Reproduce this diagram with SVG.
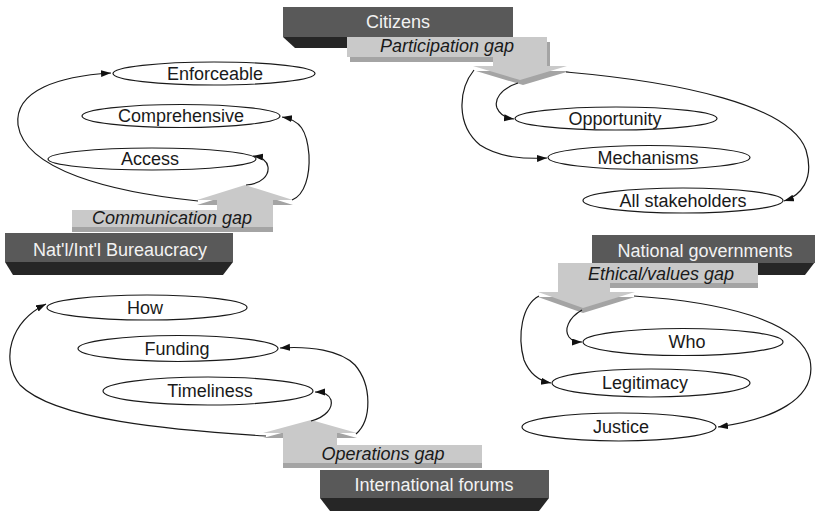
<svg xmlns="http://www.w3.org/2000/svg" width="816" height="511" viewBox="0 0 816 511">
  <defs>
    <marker id="arrow" markerUnits="userSpaceOnUse" markerWidth="11" markerHeight="8" refX="10" refY="3.5" orient="auto">
      <path d="M0,0 L10,3.5 L0,7 z" fill="#111"/>
    </marker>
  </defs>
  <style>
    .actor { fill: #595959; }
    .actor-edge { fill: #262626; }
    .gap { fill: #c9c9c9; }
    .gap-edge { fill: #a4a4a4; }
    .actor-text { font-family: "Liberation Sans", Arial, sans-serif; font-size: 18px; fill: #f2f2f2; text-anchor: middle; }
    .gap-text { font-family: "Liberation Sans", Arial, sans-serif; font-size: 18px; font-style: italic; fill: #1a1a1a; text-anchor: middle; }
    .item { fill: #ffffff; stroke: #1a1a1a; stroke-width: 1.2; }
    .item-text { font-family: "Liberation Sans", Arial, sans-serif; font-size: 18px; fill: #1a1a1a; text-anchor: middle; }
    .link { fill: none; stroke: #1a1a1a; stroke-width: 1.2; marker-end: url(#arrow); }
  </style>
  <rect width="816" height="511" fill="#ffffff"/>

  <!-- Citizens / participation gap -->
  <g id="citizens">
    <polygon class="actor-edge" points="283,37 513,37 501,48 295,48"/>
    <rect class="actor" x="283" y="7" width="230" height="30"/>
    <text class="actor-text" x="398" y="28">Citizens</text>
  </g>
  <g id="participation-gap">
    <polygon class="gap-edge" transform="translate(3,5)" points="347,37 547,37 547,66 567,66 520,80 473,66 493,66 493,57 347,57"/>
    <polygon class="gap" points="347,37 547,37 547,66 567,66 520,80 473,66 493,66 493,57 347,57"/>
    <text class="gap-text" x="447" y="52">Participation gap</text>
  </g>

  <!-- Bureaucracy / communication gap -->
  <g id="bureaucracy">
    <polygon class="actor-edge" points="5,262 233,262 223,275 13,275"/>
    <rect class="actor" x="5" y="233" width="228" height="29"/>
    <text class="actor-text" x="120" y="256">Nat'l/Int'l Bureaucracy</text>
  </g>
  <g id="communication-gap">
    <polygon class="gap-edge" transform="translate(0,5)" points="72,210 217,210 217,200 197,200 245,185 293,200 273,200 273,227 72,227"/>
    <polygon class="gap" points="72,210 217,210 217,200 197,200 245,185 293,200 273,200 273,227 72,227"/>
    <text class="gap-text" x="172" y="224">Communication gap</text>
  </g>

  <!-- National governments / ethical gap -->
  <g id="national-governments">
    <polygon class="actor-edge" points="592,262 815,262 805,275 602,275"/>
    <rect class="actor" x="592" y="235" width="223" height="28"/>
    <text class="actor-text" x="705" y="257">National governments</text>
  </g>
  <g id="ethical-gap">
    <polygon class="gap-edge" transform="translate(0,5)" points="558,263 758,263 758,283 610,283 610,292 635,292 583,308 538,292 558,292"/>
    <polygon class="gap" points="558,263 758,263 758,283 610,283 610,292 635,292 583,308 538,292 558,292"/>
    <text class="gap-text" x="661" y="280">Ethical/values gap</text>
  </g>

  <!-- International forums / operations gap -->
  <g id="international-forums">
    <polygon class="actor-edge" points="320,498 549,498 539,511 330,511"/>
    <rect class="actor" x="320" y="470" width="229" height="28"/>
    <text class="actor-text" x="434" y="491">International forums</text>
  </g>
  <g id="operations-gap">
    <polygon class="gap-edge" transform="translate(0,5)" points="283,463 283,433 263,433 311,420 357,433 337,433 337,445 482,445 482,463"/>
    <polygon class="gap" points="283,463 283,433 263,433 311,420 357,433 337,433 337,445 482,445 482,463"/>
    <text class="gap-text" x="383" y="460">Operations gap</text>
  </g>

  <!-- Items -->
  <g id="enforceable"><ellipse class="item" cx="214" cy="73.5" rx="101" ry="11.5"/><text class="item-text" x="215" y="80">Enforceable</text></g>
  <g id="comprehensive"><ellipse class="item" cx="181" cy="116" rx="99" ry="11.5"/><text class="item-text" x="181" y="122">Comprehensive</text></g>
  <g id="access"><ellipse class="item" cx="152" cy="159" rx="104" ry="11"/><text class="item-text" x="150" y="165">Access</text></g>

  <g id="opportunity"><ellipse class="item" cx="616" cy="118.5" rx="101" ry="11.5"/><text class="item-text" x="615" y="125">Opportunity</text></g>
  <g id="mechanisms"><ellipse class="item" cx="649" cy="157.5" rx="101" ry="12"/><text class="item-text" x="648" y="164">Mechanisms</text></g>
  <g id="all-stakeholders"><ellipse class="item" cx="683" cy="200.5" rx="100" ry="12.5"/><text class="item-text" x="683" y="207">All stakeholders</text></g>

  <g id="who"><ellipse class="item" cx="683" cy="342" rx="100" ry="13.5"/><text class="item-text" x="687" y="348">Who</text></g>
  <g id="legitimacy"><ellipse class="item" cx="651" cy="383" rx="99" ry="14"/><text class="item-text" x="645" y="389">Legitimacy</text></g>
  <g id="justice"><ellipse class="item" cx="619" cy="427" rx="97" ry="14"/><text class="item-text" x="621" y="433">Justice</text></g>

  <g id="how"><ellipse class="item" cx="147" cy="307.5" rx="100" ry="12.5"/><text class="item-text" x="145" y="314">How</text></g>
  <g id="funding"><ellipse class="item" cx="178" cy="348.5" rx="100" ry="13"/><text class="item-text" x="177" y="355">Funding</text></g>
  <g id="timeliness"><ellipse class="item" cx="208" cy="391" rx="105" ry="14"/><text class="item-text" x="210" y="397">Timeliness</text></g>

  <!-- Connectors -->
  <g id="connectors">
    <path class="link" d="M198,201 C110,192 25,170 18,125 C14,90 60,76 111,73"/>
    <path class="link" d="M292,200 C305,195 310,175 309,155 C307,130 300,120 282,117"/>
    <path class="link" d="M246,185 C262,184 269,175 268,167 C267,161 262,157 253,156"/>

    <path class="link" d="M474,70 C458,90 456,125 480,145 C500,158 525,159 547,158"/>
    <path class="link" d="M518,83 C500,89 494,100 497,108 C500,115 506,118 514,119"/>
    <path class="link" d="M566,72 C680,82 790,105 806,150 C815,180 800,196 784,201"/>

    <path class="link" d="M539,296 C522,305 517,335 524,360 C530,375 540,381 551,383"/>
    <path class="link" d="M582,310 C568,318 564,330 569,337 C572,341 577,342 582,342"/>
    <path class="link" d="M634,296 C720,302 800,320 810,360 C818,400 770,420 718,427"/>

    <path class="link" d="M266,436 C170,430 55,420 20,385 C0,360 10,322 46,304"/>
    <path class="link" d="M356,434 C372,420 372,385 355,365 C340,350 310,346 280,348"/>
    <path class="link" d="M311,421 C326,417 333,408 331,400 C329,394 322,392 315,392"/>
  </g>
</svg>
